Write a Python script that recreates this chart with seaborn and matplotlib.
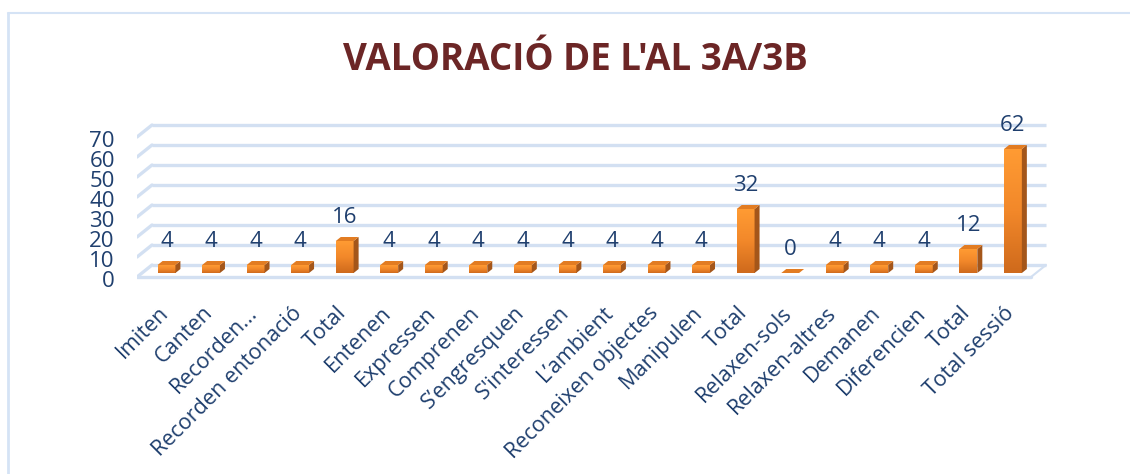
import numpy as np
import pandas as pd
import matplotlib
matplotlib.use("Agg")
import matplotlib.pyplot as plt
import seaborn as sns
from matplotlib.patches import Polygon
from matplotlib.lines import Line2D
from matplotlib.transforms import ScaledTranslation
from matplotlib.colors import LinearSegmentedColormap

categories = ["Imiten", "Canten", "Recorden...", "Recorden entonació", "Total",
              "Entenen", "Expressen", "Comprenen", "S\u2019engresquen", "S'interessen",
              "L\u2019ambient", "Reconeixen objectes", "Manipulen", "Total",
              "Relaxen-sols", "Relaxen-altres", "Demanen", "Diferencien", "Total",
              "Total sessió"]
values = [4, 4, 4, 4, 16, 4, 4, 4, 4, 4, 4, 4, 4, 32, 0, 4, 4, 4, 12, 62]
y_ticks = [0, 10, 20, 30, 40, 50, 60, 70]
title = "VALORACIÓ DE L'AL 3A/3B"

sns.set_theme(style="white")
plt.rcParams["font.family"] = ["Open Sans", "DejaVu Sans"]

W, H, DPI = 1130, 474, 100
fig = plt.figure(figsize=(W / DPI, H / DPI), dpi=DPI)
fig.patch.set_facecolor("white")

# axes geometry in pixels
px_left, px_right, px_bottom, px_top = 137, 1050, 283, 121
ax = fig.add_axes([px_left / W, 1 - px_bottom / H,
                   (px_right - px_left) / W, (px_bottom - px_top) / H])
ax.set_facecolor("none")

spacing = 44.55
x0 = 166.5
xlim = ((px_left - x0) / spacing, (px_right - x0) / spacing)
ylim = (-5, 76)

df = pd.DataFrame({"pos": list(range(len(values))), "value": values})
sns.barplot(data=df, x="pos", y="value", order=list(range(len(values))),
            color="#F08A24", width=0.40, saturation=1, ax=ax, zorder=3,
            linewidth=0)

grid_c = "#D3E0F2"
depth = 6  # back wall offset in data units
xL_front = (137 - x0) / spacing
xL_back = (152 - x0) / spacing
xR_back = (1046 - x0) / spacing
xR_front = (1031 - x0) / spacing
for v in y_ticks:
    ax.plot([xL_back, xR_back], [v + depth - 2, v + depth - 2], color=grid_c, lw=2.4, zorder=1, solid_capstyle="butt")
    ax.plot([xL_front, xL_back], [v - 2, v + depth - 2], color=grid_c, lw=2.4, zorder=1)
ax.plot([xL_front, xR_front], [-2, -2], color=grid_c, lw=2.4, zorder=1)
ax.plot([xR_front, xR_back], [-2, depth - 2], color=grid_c, lw=1.5, zorder=1)

# 3D faces + gradient fronts
ddx = 5 / spacing
ddy = 2.0
cmap = LinearSegmentedColormap.from_list("org", ["#CF6A1C", "#F2882A", "#FF9B33"])
grad = np.linspace(0, 1, 100).reshape(-1, 1)
label_c = "#1F3F6E"
for p, v in zip(ax.patches, values):
    x, w, h = p.get_x(), p.get_width(), p.get_height()
    if h > 0:
        im = ax.imshow(grad, extent=[x, x + w, 0, h], origin="lower", cmap=cmap,
                       aspect="auto", zorder=3.1)
        im.set_clip_path(p)
    side = Polygon([(x + w, 0), (x + w + ddx, ddy), (x + w + ddx, h + ddy), (x + w, h)],
                   closed=True, facecolor="#A4561A", edgecolor="none", zorder=3.2)
    top = Polygon([(x, h), (x + ddx, h + ddy), (x + w + ddx, h + ddy), (x + w, h)],
                  closed=True, facecolor="#E27C22", edgecolor="none", zorder=3.2)
    ax.add_patch(side)
    ax.add_patch(top)
    ax.text(x + w / 2, v + 12, str(v), ha="center", va="center",
            fontsize=16, color=label_c, zorder=5)

ax.set_xlim(*xlim)
ax.set_ylim(*ylim)

ax.set_yticks([v - 3 for v in y_ticks])
ax.set_yticklabels([str(v) for v in y_ticks], fontsize=16, color=label_c)
ax.tick_params(axis="y", length=0, pad=16)

ax.set_xticks(list(range(len(values))))
ax.set_xticklabels(categories, rotation=45, ha="right", va="top",
                   rotation_mode="anchor", fontsize=15.5, color=label_c)
ax.tick_params(axis="x", length=0, pad=14)
off = ScaledTranslation(-9 / DPI, 0, fig.dpi_scale_trans)
for lab in ax.get_xticklabels():
    lab.set_transform(lab.get_transform() + off)

ax.set_xlabel("")
ax.set_ylabel("")
for s in ax.spines.values():
    s.set_visible(False)

fig.text(575 / W, 1 - 60 / H, title, ha="center", va="center",
         fontsize=26.5, fontweight="bold", color="#6C2626")

# outer frame
fc = "#D5E3F5"
fig.add_artist(Line2D([8 / W, 8 / W], [0, 1 - 13 / H], color=fc, lw=2, transform=fig.transFigure))
fig.add_artist(Line2D([8 / W, 1], [1 - 13 / H, 1 - 13 / H], color=fc, lw=1.5, transform=fig.transFigure))

fig.savefig("out.png", dpi=DPI, facecolor="white")
